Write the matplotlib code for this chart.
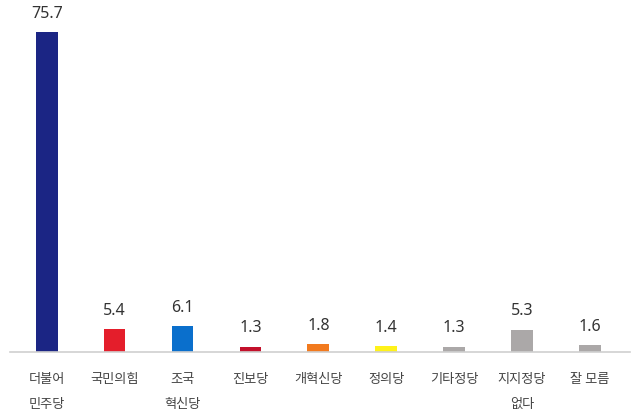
import matplotlib.pyplot as plt

plt.rcParams['font.family'] = ['Noto Sans CJK KR', 'DejaVu Sans']

parties = ['더불어\n민주당', '국민의힘', '조국\n혁신당', '진보당', '개혁신당', '정의당', '기타정당', '지지정당\n없다', '잘 모름']
values = [75.7, 5.4, 6.1, 1.3, 1.8, 1.4, 1.3, 5.3, 1.6]
colors = ['#1B2584', '#E41E2B', '#0A6FCC', '#C3102B', '#F27A1E', '#FFF21A', '#ABA8A8', '#ABA8A8', '#ABA8A8']

fig = plt.figure(figsize=(6.4, 4.11), dpi=100)
ax = fig.add_axes([10/640, 59/411, 620/640, 352/411])

x = range(len(values))
ax.bar(x, values, width=0.32, color=colors)
for i, v in enumerate(values):
    ax.text(i, v + 2.4, '%.1f' % v, ha='center', va='bottom', fontsize=11.5, color='#333333',
            family=['Noto Sans', 'DejaVu Sans'])

ax.set_xlim(-0.54, 8.59)
ax.set_ylim(0, 83.2)
ax.set_yticks([])
ax.set_xticks(list(x))
ax.set_xticklabels(parties, fontsize=9.5, color='#444444', linespacing=2.2, va='top')
ax.tick_params(axis='x', length=0, pad=15)
for s in ['top', 'right', 'left']:
    ax.spines[s].set_visible(False)
ax.spines['bottom'].set_color('#d0d0d0')
ax.spines['bottom'].set_linewidth(1.2)

plt.savefig('out.png', dpi=100)
